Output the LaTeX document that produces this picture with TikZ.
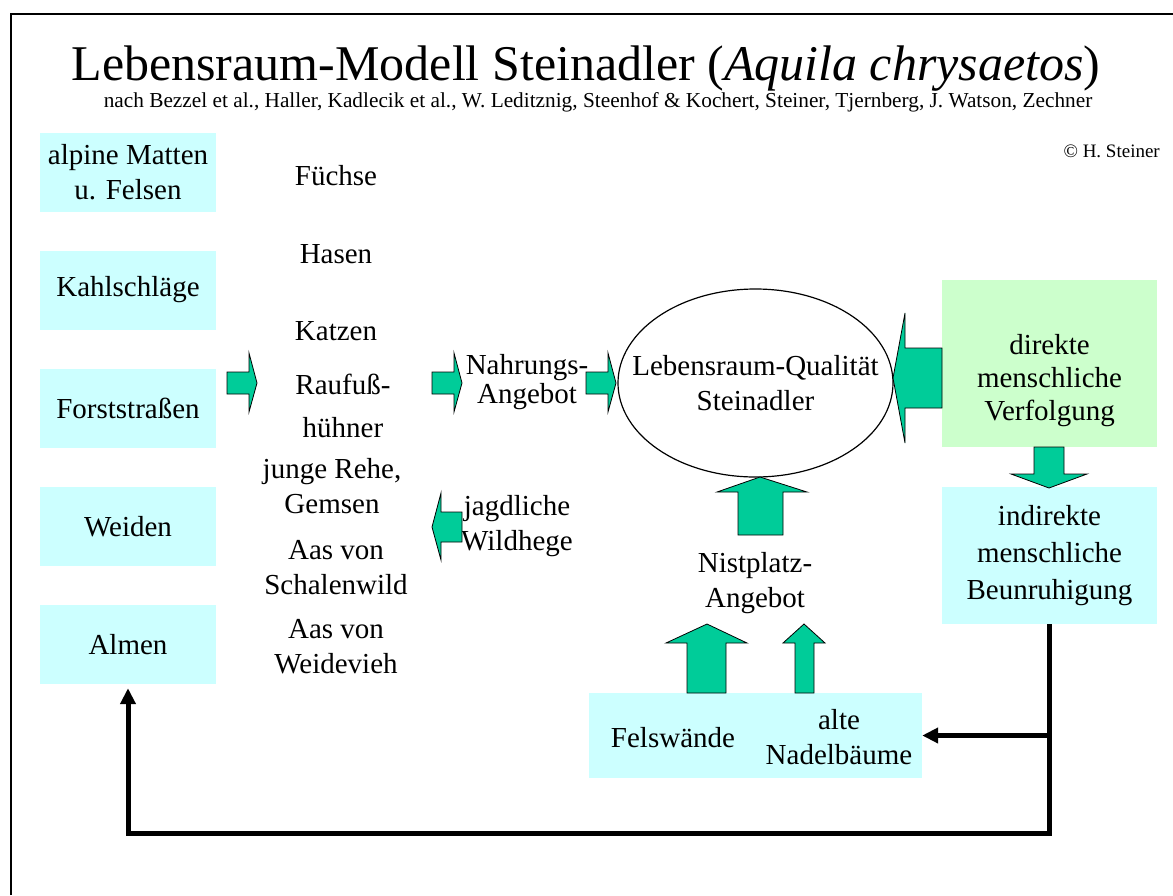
\documentclass[tikz,border=0pt]{standalone}
\usepackage{fontspec}
\setmainfont{Liberation Serif}
\usetikzlibrary{arrows.meta,shapes.geometric}
\definecolor{feldcyan}{HTML}{CCFFFF}
\definecolor{feldgruen}{HTML}{CCFFCC}
\definecolor{pfeilgruen}{HTML}{00CC99}
\newcommand{\groesse}{\fontsize{29}{35}\selectfont}
\tikzset{
  feld/.style={fill=feldcyan, minimum width=176, minimum height=79, align=center, font=\groesse},
  text block/.style={align=center, font=\groesse, inner sep=0pt},
  pfeil/.style={fill=pfeilgruen, draw=black, line width=0.8pt, line join=miter},
  linie/.style={line width=5pt, -{Triangle[length=16pt,width=15pt]}}
}
\begin{document}
\begin{tikzpicture}[x=1pt,y=-1pt]
    \useasboundingbox (0,0) rectangle (1173,895);
    % Rahmen
    \draw[line width=2.5pt] (11,895) -- (11,14) -- (1173,14);
    % Titel
    \node[anchor=base, inner sep=0pt, font=\fontsize{50}{60}\selectfont] (titel) at (586,80)
        {Lebensraum-Modell Steinadler (\textit{Aquila chrysaetos})};
    \node[anchor=base, inner sep=0pt, font=\fontsize{21.3}{25}\selectfont] (quellen) at (598,107)
        {nach Bezzel et al., Haller, Kadlecik et al., W. Leditznig, Steenhof \& Kochert, Steiner, Tjernberg, J. Watson, Zechner};
    \node[anchor=base east, inner sep=0pt, font=\fontsize{19}{22}\selectfont] (autor) at (1160,157) {\textcopyright{} H. Steiner};

    % Lebensraeume links
    \node[feld] (matten) at (128,172.5) {alpine Matten\\u. Felsen};
    \node[feld] (kahl) at (128,290) {Kahlschläge};
    \node[feld] (forst) at (128,408.5) {Forststraßen};
    \node[feld] (weiden) at (128,526.5) {Weiden};
    \node[feld] (almen) at (128,644.5) {Almen};

    % Beutetiere
    \node[text block, anchor=base] (fuchs) at (336,185) {Füchse};
    \node[text block, anchor=base] (hase) at (336,263) {Hasen};
    \node[text block, anchor=base] (katze) at (336,340) {Katzen};
    \node[text block] (huhn) at (343,406) {Raufuß-\\[8pt]hühner};
    \node[text block] (rehe) at (332,486) {junge Rehe,\\Gemsen};
    \node[text block] (schalen) at (336,567.5) {Aas von\\Schalenwild};
    \node[text block] (vieh) at (336,647) {Aas von\\Weidevieh};

    % Mitte
    \node[text block] (nahrung) at (527,382) {Nahrungs-\\[-6pt]Angebot};
    \node[text block] (hege) at (517,526.5) {jagdliche\\Wildhege};
    \node[draw, ellipse, line width=1.2pt, minimum width=275, minimum height=188] (qualitaet) at (755.5,383) {};
    \node[text block] (qualtext) at (qualitaet.center) {Lebensraum-Qualität\\Steinadler};
    \node[text block] (nist) at (755,583) {Nistplatz-\\Angebot};

    % Horstplaetze
    \node[fill=feldcyan, minimum width=333, minimum height=85] (horst) at (755.5,735.5) {};
    \node[text block, anchor=base] (fels) at (673,747) {Felswände};
    \node[text block] (baeume) at (839,737.5) {alte\\Nadelbäume};

    % Mensch
    \node[fill=feldgruen, minimum width=215, minimum height=167] (direkt) at (1049.5,363.5) {};
    \node[text block] (direkttext) at (1049.5,381) {direkte\\[-2pt]menschliche\\[-2pt]Verfolgung};
    \node[feld, minimum width=215, minimum height=137] (indirekt) at (1049.5,555.5)
        {indirekte\\[2pt]menschliche\\[2pt]Beunruhigung};

    % Blockpfeile
    \foreach \x in {227,432,586}
        \draw[pfeil] (\x,372) -- ++(22,0) -- ++(0,-19) -- ++(8,30) -- ++(-8,29) -- ++(0,-18) -- ++(-22,0) -- cycle;
    \draw[pfeil] (462,512) -- (441,512) -- (441,493) -- (432,527) -- (441,560) -- (441,542) -- (462,542) -- cycle;
    \draw[pfeil] (942,348) -- (905,348) -- (905,313) -- (893,378) -- (905,443) -- (905,408) -- (942,408) -- cycle;
    \draw[pfeil] (1034,447) -- (1034,474) -- (1011,474) -- (1049,488) -- (1087,474) -- (1064,474) -- (1064,447) -- cycle;
    \draw[pfeil] (738,535) -- (738,492) -- (717,492) -- (760,477) -- (807,492) -- (783,492) -- (783,535) -- cycle;
    \draw[pfeil] (687,693) -- (687,643) -- (666,643) -- (707,624) -- (747,643) -- (726,643) -- (726,693) -- cycle;
    \draw[pfeil] (795,693) -- (795,643) -- (783,643) -- (804,624) -- (825,643) -- (814,643) -- (814,693) -- cycle;

    % Rueckwirkung
    \draw[linie, shorten >=4pt] (indirekt.south) -- (indirekt.south |- 0,833) -| (almen.south);
    \draw[linie] (indirekt.south |- horst.east) -- (horst.east);
\end{tikzpicture}
\end{document}
